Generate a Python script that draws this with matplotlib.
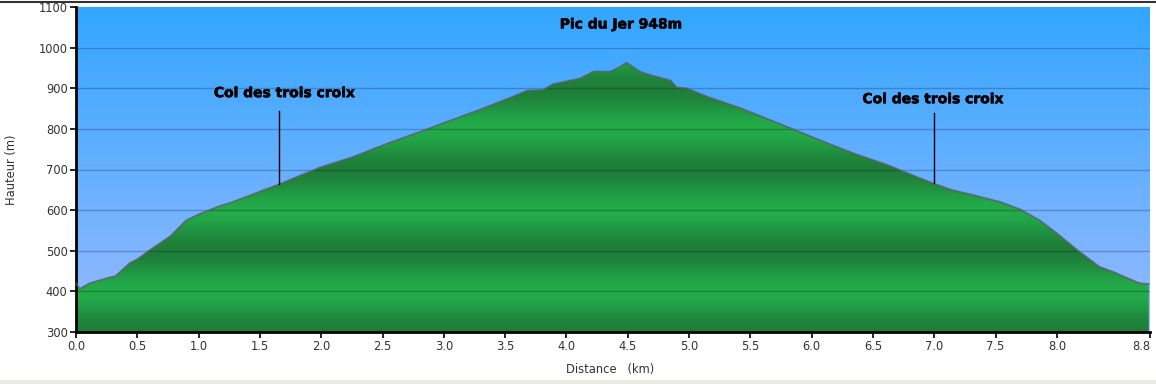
import numpy as np
import matplotlib
matplotlib.use("Agg")
from matplotlib import pyplot as plt
from matplotlib.patches import Polygon, Rectangle
from matplotlib.lines import Line2D
import matplotlib.patheffects as pe

# elevation profile
dist = [0.0, 0.03, 0.11, 0.28, 0.32, 0.44, 0.50, 0.60, 0.77, 0.90, 0.99, 1.07, 1.18, 1.26,
        1.66, 1.99, 2.26, 2.54, 2.81, 3.03, 3.30, 3.56, 3.68, 3.81, 3.89, 4.11, 4.22,
        4.36, 4.44, 4.49, 4.60, 4.68, 4.85, 4.90, 4.98, 5.15, 5.42, 5.52, 5.80, 6.07, 6.34,
        6.62, 6.88, 6.99, 7.15, 7.32, 7.54, 7.70, 7.86, 8.00, 8.17, 8.35, 8.46, 8.65, 8.68, 8.75]
alt = [421, 406, 420, 435, 437, 470, 479, 501, 536, 575, 588, 598, 611, 618,
       664, 705, 731, 764, 793, 818, 848, 879, 894, 896, 910, 924, 941,
       941, 953, 963, 941, 933, 919, 902, 900, 879, 851, 839, 805, 772, 740,
       711, 679, 666, 649, 637, 620, 602, 575, 543, 501, 460, 448, 423, 420, 418]

xticks = [0.0, 0.5, 1.0, 1.5, 2.0, 2.5, 3.0, 3.5, 4.0, 4.5, 5.0, 5.5, 6.0, 6.5, 7.0, 7.5, 8.0, 8.76]
xticklabels = ["0.0", "0.5", "1.0", "1.5", "2.0", "2.5", "3.0", "3.5", "4.0", "4.5",
               "5.0", "5.5", "6.0", "6.5", "7.0", "7.5", "8.0", "8.8"]
yticks = [300, 400, 500, 600, 700, 800, 900, 1000, 1100]

# annotations: (label, x of marker, text x, text height, line top, line bottom)
cols = [("Col des trois croix", 1.656, 1.70, 888, 843, 664),
        ("Col des trois croix", 7.0, 6.99, 873, 838, 668)]
peak_label = "Pic du Jer 948m"

xmax = 8.76
fig = plt.figure(figsize=(11.56, 3.84), dpi=100)
ax = fig.add_axes([76 / 1156, 1 - 332 / 384, (1150 - 76) / 1156, (332 - 7) / 384])

# sky gradient
sky_top = np.array([51, 166, 255]) / 255
sky_bot = np.array([152, 186, 255]) / 255
t = np.linspace(0, 1, 256)[:, None]
sky = (sky_bot * (1 - t) + sky_top * t)[:, None, :]
ax.imshow(sky, extent=(0, xmax, 300, 1100), aspect="auto", origin="lower", zorder=0)

# green bands, bright at even hundreds, dark at odd hundreds
v = np.linspace(300, 1100, 800)
d = 1 - np.abs(((v - 400) % 200) - 100) / 100
b = 0.5 * (1 + np.cos(np.pi * d))
bright = np.array([35, 171, 74]) / 255
dark = np.array([30, 126, 57]) / 255
green = (dark * (1 - b[:, None]) + bright * b[:, None])[:, None, :]
im = ax.imshow(green, extent=(0, xmax, 300, 1100), aspect="auto", origin="lower", zorder=1)
verts = list(zip(dist, alt)) + [(dist[-1], 300), (0, 300)]
poly = Polygon(verts, closed=True, facecolor="none", edgecolor="none")
ax.add_patch(poly)
im.set_clip_path(poly)

for yv in yticks[1:-1]:
    ax.axhline(yv, color="black", alpha=0.22, lw=1, zorder=2)

ax.plot(dist, alt, color="#5c5c66", alpha=0.75, lw=1.3, zorder=3)

thick = [pe.withStroke(linewidth=0.4, foreground="black")]
for label, xm, xt, yt, ltop, lbot in cols:
    ax.plot([xm, xm], [ltop, lbot], color="black", lw=1, zorder=4)
    ax.text(xt, yt, label, ha="center", va="center", fontsize=10,
            fontweight="bold", color="black", zorder=5, path_effects=thick)
ax.text(4.445, 1057, peak_label, ha="center", va="center", fontsize=10,
        fontweight="bold", color="black", zorder=5, path_effects=thick)

ax.set_xlim(0, xmax)
ax.set_ylim(300, 1100)
ax.set_xticks(xticks)
ax.set_xticklabels(xticklabels)
ax.get_xticklabels()[-1].set_horizontalalignment("right")
ax.set_yticks(yticks)
ax.tick_params(axis="both", labelsize=8.3, labelcolor="#333333", length=4,
               width=1.2, color="black", direction="out", pad=2)
for s in ["top", "right"]:
    ax.spines[s].set_visible(False)
for s in ["left", "bottom"]:
    ax.spines[s].set_linewidth(2)
    ax.spines[s].set_color("black")

fig.text(610 / 1156, 1 - 369 / 384, "Distance   (km)", ha="center", va="center",
         fontsize=8.3, color="#333333")
fig.text(12 / 1156, 1 - 170 / 384, "Hauteur (m)", ha="center", va="center",
         fontsize=8.3, color="#333333", rotation=90)

# picture frame
fig.add_artist(Line2D([0, 1], [1 - 1.5 / 384, 1 - 1.5 / 384], color="#333333", lw=1.5))
fig.add_artist(Rectangle((0, 0), 1, 4 / 384, color="#ebeae3", lw=0))

fig.savefig("out.png", dpi=100)
